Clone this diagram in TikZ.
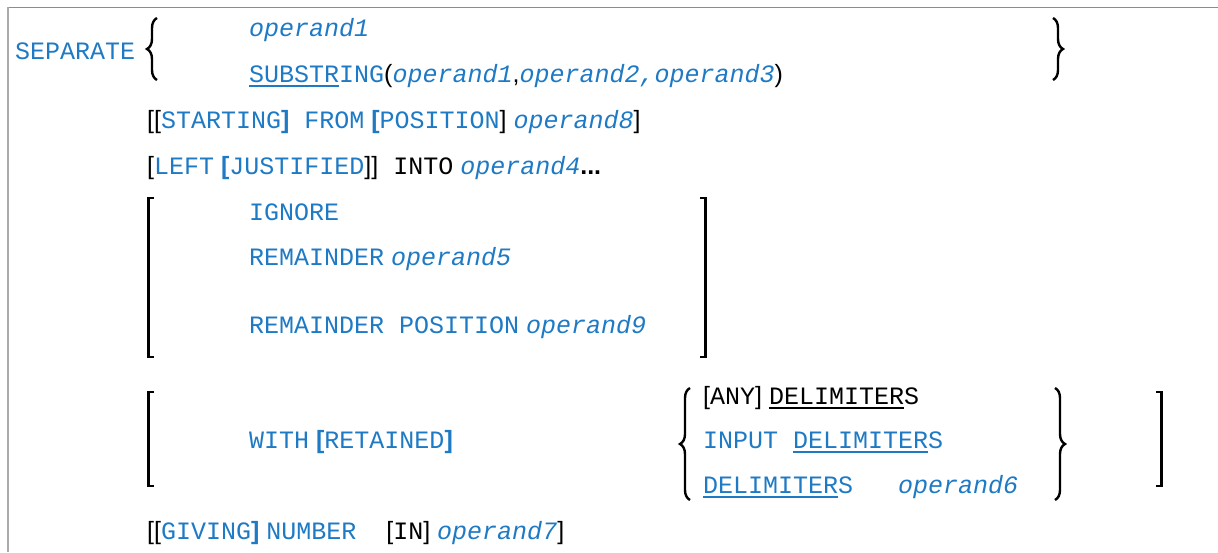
\documentclass[tikz,border=0pt]{standalone}
\usepackage{fontspec}
\usepackage{xcolor}
\usetikzlibrary{decorations.pathreplacing}

\setmainfont{Liberation Sans}
\newfontfamily\synfont{Liberation Mono}

\definecolor{kwblue}{RGB}{30,122,196}
\definecolor{framegray}{RGB}{140,140,140}
\definecolor{framelight}{RGB}{170,170,170}

% syntax pieces
\newcommand{\kw}[1]{\textcolor{kwblue}{\synfont #1}}
\newcommand{\opd}[1]{\textcolor{kwblue}{\synfont\itshape #1}}
\newcommand{\blk}[1]{{\synfont #1}}
\newcommand{\msp}{{\synfont\ }}
\newcommand{\blb}{\textcolor{kwblue}{\bfseries [}}
\newcommand{\brb}{\textcolor{kwblue}{\bfseries ]}}
\newcommand{\us}[1]{\setbox0\hbox{#1}\rlap{\rule[-4.5pt]{\wd0}{1.6pt}}\box0}

\begin{document}
\begin{tikzpicture}[
 x=1pt, y=-1pt,
 syn/.style={anchor=base west, inner sep=0pt, font=\fontsize{25}{30}\selectfont},
 brk/.style={line width=2.8pt},
 curly/.style={line width=2.4pt, decorate, decoration={brace, amplitude=10pt}}
 ]
 \useasboundingbox (0,0) rectangle (1218,552);

 % frame
 \draw[framegray, line width=1.5pt] (7,7.5) -- (1218,7.5);
 \draw[framelight, line width=2pt] (7.8,7) -- (7.8,552);

 % statement and first choice
 \node[syn] (sep) at (15,59) {\kw{SEPARATE}};
 \node[syn] (opone) at (249,36) {\opd{operand1}};
 \node[syn] (substr) at (249,82) {\kw{\us{SUBSTR}ING}(\opd{operand1},\opd{operand2,operand3})};
 \draw[curly] (157,80) -- (157,18);
 \draw[curly] (1053,18) -- (1053,80);

 % optional clauses
 \node[syn] (fromrow) at (147,128) {[[\kw{STARTING}\brb\msp\kw{FROM} \blb\kw{POSITION}] \opd{operand8}]};
 \node[syn] (intorow) at (147,174) {[\kw{LEFT} \blb\kw{JUSTIFIED}]]\msp\blk{INTO} \opd{operand4}\textbf{...}};

 % remainder choice
 \node[syn] (ignore) at (249,220) {\kw{IGNORE}};
 \node[syn] (remop) at (249,265) {\kw{REMAINDER} \opd{operand5}};
 \node[syn] (rempos) at (249,333) {\kw{REMAINDER POSITION} \opd{operand9}};
 \draw[brk] (154,198) -- (148.4,198) -- (148.4,357) -- (154,357);
 \draw[brk] (700,198) -- (705.6,198) -- (705.6,357) -- (700,357);

 % delimiter choice
 \node[syn] (with) at (249,448) {\kw{WITH} \blb\kw{RETAINED}\brb};
 \node[syn] (anydel) at (703,404) {[\blk{ANY}] \blk{\us{DELIMITER}S}};
 \node[syn] (inpdel) at (703,448) {\kw{INPUT \us{DELIMITER}S}};
 \node[syn] (delop) at (703,493) {\kw{\us{DELIMITER}S\ \ \ }\opd{operand6}};
 \draw[curly] (690,500) -- (690,388);
 \draw[curly] (1055,388) -- (1055,500);
 \draw[brk] (154,392) -- (148.4,392) -- (148.4,486) -- (154,486);
 \draw[brk] (1156,392) -- (1161.6,392) -- (1161.6,486) -- (1156,486);

 % giving clause
 \node[syn] (giving) at (147,539) {[[\kw{GIVING}\brb\ \kw{NUMBER}\msp\msp[\blk{IN}] \opd{operand7}]};
\end{tikzpicture}
\end{document}
